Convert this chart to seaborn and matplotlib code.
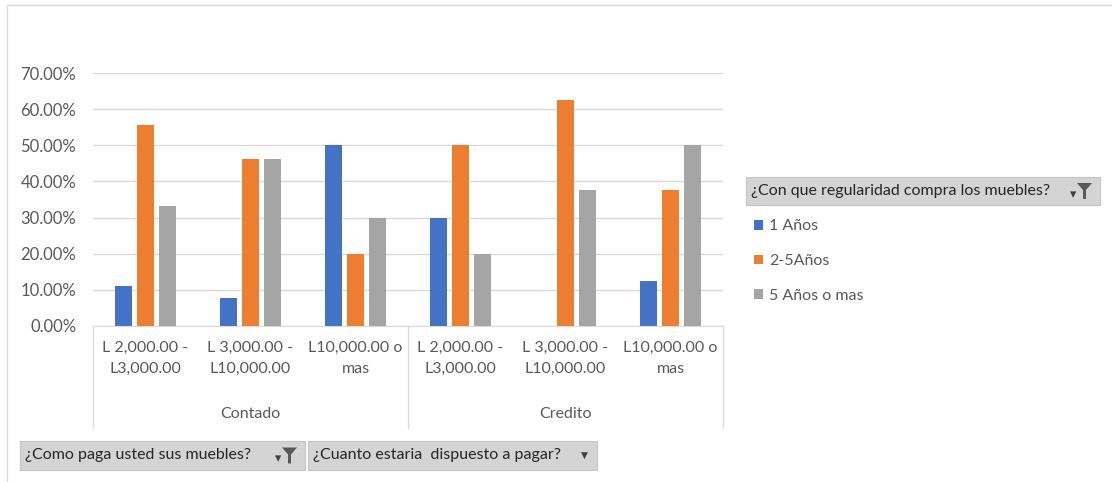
import matplotlib
matplotlib.use("Agg")
import matplotlib.pyplot as plt
import matplotlib.transforms as mtransforms
from matplotlib.patches import Rectangle, Polygon
from matplotlib.ticker import PercentFormatter
import seaborn as sns
import pandas as pd

# datos de la tabla dinamica
pagos = ["Contado", "Credito"]
rangos = ["L 2,000.00 -\nL3,000.00", "L 3,000.00 -\nL10,000.00", "L10,000.00 o\nmas"]
frecuencias = ["1 Años", "2-5Años", "5 Años o mas"]
uno_anio = [11.11, 7.69, 50.00, 30.00, 0.00, 12.50]
dos_cinco = [55.56, 46.15, 20.00, 50.00, 62.50, 37.50]
cinco_mas = [33.33, 46.15, 30.00, 20.00, 37.50, 50.00]
colores = ["#4472C4", "#ED7D31", "#A5A5A5"]

claves = [f"{p}|{r}" for p in pagos for r in rangos]
rows = []
for serie, vals in zip(frecuencias, [uno_anio, dos_cinco, cinco_mas]):
    for k, v in zip(claves, vals):
        rows.append({"clave": k, "frecuencia": serie, "valor": v})
df = pd.DataFrame(rows)

sns.set_style("white")
plt.rcParams["font.family"] = ["Lato", "DejaVu Sans"]
TXT = "#595959"
GRID = "#D9D9D9"
FS = 11.5

W, H = 1112, 482
fig = plt.figure(figsize=(W / 100, H / 100), dpi=100)


def fx(px):
    return px / W


def fy(py):
    return 1 - py / H


ax = fig.add_axes([fx(93), fy(326), fx(723) - fx(93), fy(73) - fy(326)])
sns.barplot(data=df, x="clave", y="valor", hue="frecuencia", order=claves,
            hue_order=frecuencias, palette=colores, saturation=1, width=0.62,
            gap=0.2, linewidth=0, ax=ax, legend=True)

ax.set_ylim(0, 70)
ax.set_xlim(-0.5, len(claves) - 0.5)
ax.set_yticks(range(0, 71, 10))
ax.yaxis.set_major_formatter(PercentFormatter(xmax=100, decimals=2))
ax.grid(axis="y", color=GRID, linewidth=1)
ax.set_axisbelow(True)
for s in ["top", "right", "left"]:
    ax.spines[s].set_visible(False)
ax.spines["bottom"].set_color(GRID)
ax.set_xlabel("")
ax.set_ylabel("")
ax.tick_params(axis="y", length=0, pad=12, labelsize=12, labelcolor=TXT)
ax.tick_params(axis="x", length=0, pad=11, labelsize=FS, labelcolor=TXT)
ax.set_xticks(range(len(claves)))
ax.set_xticklabels(rangos * len(pagos))
for lbl in ax.get_xticklabels():
    lbl.set_linespacing(1.6)

# etiquetas de grupo y separadores
trans = mtransforms.blended_transform_factory(ax.transData, ax.transAxes)
for i, p in enumerate(pagos):
    centro = i * len(rangos) + (len(rangos) - 1) / 2
    ax.text(centro, -0.348, p, transform=trans, ha="center", va="center",
            fontsize=FS, color=TXT)
for xs in [-0.5 + i * len(rangos) for i in range(len(pagos) + 1)]:
    ax.plot([xs, xs], [0, -0.403], transform=trans, color=GRID, lw=1,
            clip_on=False)

# leyenda
handles, labels = ax.get_legend_handles_labels()
ax.legend(handles, labels, loc="upper left", bbox_to_anchor=(fx(748), fy(213)),
          bbox_transform=fig.transFigure, frameon=False, fontsize=FS,
          labelcolor=TXT, handlelength=0.55, handleheight=0.55,
          handletextpad=0.35, labelspacing=1.3, borderaxespad=0)


# botones de filtro
def boton(x0, y0, x1, y1, texto, embudo):
    fig.patches.append(Rectangle((fx(x0), fy(y1)), fx(x1) - fx(x0), fy(y0) - fy(y1),
                                 transform=fig.transFigure, facecolor="#D4D4D4",
                                 edgecolor="#C4C4C4", lw=0.8))
    fig.text(fx(x0 + 5), fy((y0 + y1) / 2), texto, fontsize=FS, color="#262626",
             ha="left", va="center")
    if embudo:
        xe, ye = x1 - 22, (y0 + y1) / 2
        fig.text(fx(xe - 5), fy(ye + 3), "▾", fontsize=9, color="#404040",
                 ha="center", va="center")
        fig.patches.append(Polygon(
            [(fx(xe - 1), fy(ye - 8)), (fx(xe + 14), fy(ye - 8)),
             (fx(xe + 8), fy(ye - 1)), (fx(xe + 8), fy(ye + 8)),
             (fx(xe + 5), fy(ye + 8)), (fx(xe + 5), fy(ye - 1))],
            closed=True, transform=fig.transFigure, facecolor="#595959", lw=0))
    else:
        fig.text(fx(x1 - 13), fy((y0 + y1) / 2), "▼", fontsize=6.5, color="#404040",
                 ha="center", va="center")


boton(746, 177, 1100, 205, "¿Con que regularidad compra los muebles?", True)
boton(20, 441, 305, 470, "¿Como paga usted sus muebles?", True)
boton(308, 441, 597, 470, "¿Cuanto estaria  dispuesto a pagar?", False)

# borde del area del grafico
fig.add_artist(plt.Line2D([fx(7), 1], [fy(5), fy(5)], transform=fig.transFigure,
                          color=GRID, lw=1))
fig.add_artist(plt.Line2D([fx(7), fx(7)], [fy(5), 0], transform=fig.transFigure,
                          color=GRID, lw=1))

fig.savefig("out.png", dpi=100)
